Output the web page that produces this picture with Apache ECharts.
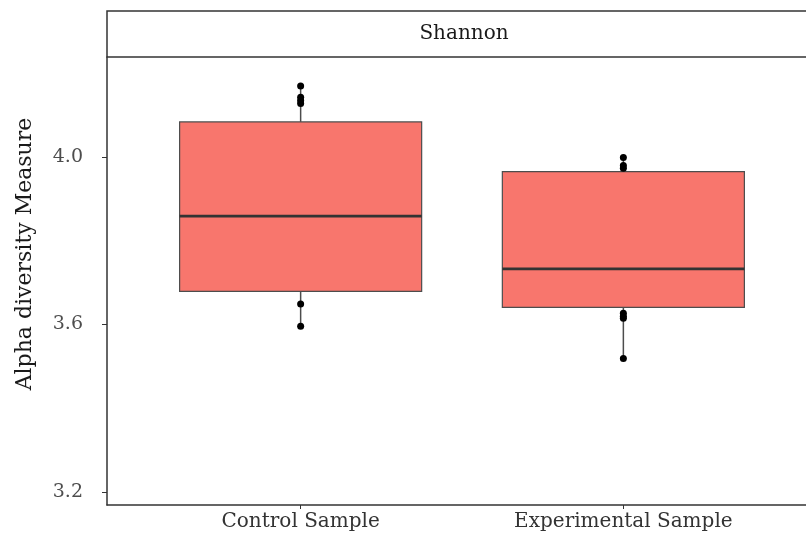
<!DOCTYPE html>
<html>
<head>
<meta charset="utf-8">
<script src="https://cdn.jsdelivr.net/npm/echarts@6/dist/echarts.min.js"></script>
<style>
  html, body { margin: 0; padding: 0; background: #fff; overflow: hidden; }
  #chart { width: 817px; height: 540px; }
</style>
</head>
<body>
<div id="chart"></div>
<script>
// 数据
var categories = ["Control Sample", "Experimental Sample"];
var positions = [1, 2];
var whiskerLow = [3.596, 3.519];
var q1 = [3.679, 3.641];
var median = [3.859, 3.733];
var q3 = [4.084, 3.965];
var whiskerHigh = [4.170, 3.999];
var controlPoints = [4.170, 4.143, 4.135, 4.128, 3.649, 3.596];
var experimentalPoints = [3.999, 3.980, 3.973, 3.627, 3.620, 3.615, 3.519];
var yTicks = [3.2, 3.6, 4.0];

var boxData = positions.map(function (p, i) {
  return [p, whiskerLow[i], q1[i], median[i], q3[i], whiskerHigh[i]];
});
var pointData = controlPoints.map(function (v) { return [1, v]; })
  .concat(experimentalPoints.map(function (v) { return [2, v]; }));

var fontFamily = "DejaVu Serif";
var chart = echarts.init(document.getElementById("chart"));

// 箱体
function renderBox(params, api) {
  var x = api.value(0);
  var half = 0.375;
  var lowPt = api.coord([x, api.value(1)]);
  var q1Pt = api.coord([x, api.value(2)]);
  var medPt = api.coord([x, api.value(3)]);
  var q3Pt = api.coord([x, api.value(4)]);
  var highPt = api.coord([x, api.value(5)]);
  var left = api.coord([x - half, api.value(3)])[0];
  var right = api.coord([x + half, api.value(3)])[0];
  var lineStyle = { stroke: "#4d4d4d", lineWidth: 1.5 };
  return {
    type: "group",
    children: [
      { type: "line", shape: { x1: lowPt[0], y1: lowPt[1], x2: q1Pt[0], y2: q1Pt[1] }, style: lineStyle },
      { type: "line", shape: { x1: q3Pt[0], y1: q3Pt[1], x2: highPt[0], y2: highPt[1] }, style: lineStyle },
      {
        type: "rect",
        shape: { x: left, y: q3Pt[1], width: right - left, height: q1Pt[1] - q3Pt[1] },
        style: { fill: "#F8766D", stroke: "#4d4d4d", lineWidth: 1.2 }
      },
      { type: "line", shape: { x1: left, y1: medPt[1], x2: right, y2: medPt[1] }, style: { stroke: "#333", lineWidth: 2.6 } }
    ]
  };
}

chart.setOption({
  animation: false,
  grid: { left: 107, right: 0, top: 57, bottom: 35 },
  xAxis: {
    type: "value",
    min: 0.4,
    max: 2.6,
    splitLine: { show: false },
    axisLine: { show: true, lineStyle: { color: "#333", width: 1.5 } },
    axisTick: { show: true, length: 4, lineStyle: { color: "#333" }, customValues: positions },
    axisLabel: {
      customValues: positions,
      margin: 7,
      color: "#333",
      fontFamily: fontFamily,
      fontSize: 20,
      formatter: function (v) { return categories[Math.round(v) - 1] || ""; }
    }
  },
  yAxis: {
    type: "value",
    min: 3.169,
    max: 4.239,
    splitLine: { show: false },
    axisLine: { show: true, lineStyle: { color: "#333", width: 1.5 } },
    axisTick: { show: true, length: 5, lineStyle: { color: "#333" }, customValues: yTicks },
    axisLabel: {
      customValues: yTicks,
      margin: 24,
      color: "#4d4d4d",
      fontFamily: fontFamily,
      fontSize: 19,
      formatter: function (v) { return v.toFixed(1); }
    }
  },
  graphic: [
    {
      type: "rect",
      shape: { x: 107, y: 11, width: 720, height: 46 },
      style: { fill: "#fff", stroke: "#333", lineWidth: 1.5 }
    },
    {
      type: "text",
      x: 464,
      y: 34,
      style: { text: "Shannon", fontFamily: fontFamily, fontSize: 20, fill: "#1a1a1a", align: "center", verticalAlign: "middle" }
    },
    {
      type: "text",
      x: 25,
      y: 254,
      rotation: Math.PI / 2,
      style: { text: "Alpha diversity Measure", fontFamily: fontFamily, fontSize: 22, fill: "#1a1a1a", align: "center", verticalAlign: "middle" }
    }
  ],
  series: [
    {
      type: "custom",
      renderItem: renderBox,
      encode: { x: 0, y: [1, 2, 3, 4, 5] },
      data: boxData
    },
    {
      type: "scatter",
      symbolSize: 7,
      itemStyle: { color: "#000", opacity: 1 },
      data: pointData
    }
  ]
});
</script>
</body>
</html>
